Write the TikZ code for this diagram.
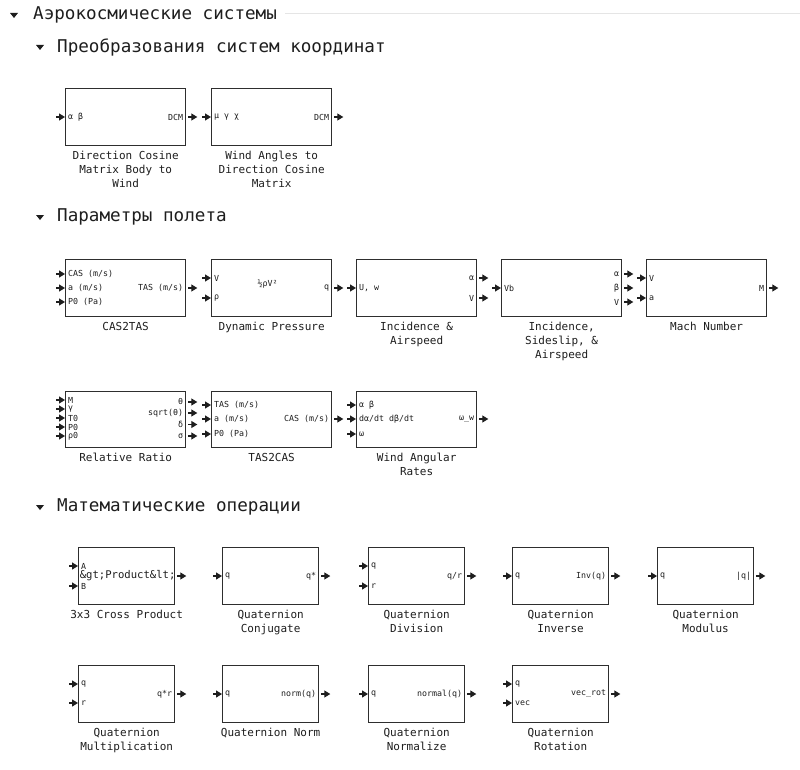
\documentclass[tikz,border=0pt]{standalone}
\usepackage{fontspec}
\setmainfont{DejaVu Sans Mono}
\usetikzlibrary{calc,arrows.meta}
\definecolor{ink}{HTML}{1E1E1E}
\definecolor{frame}{HTML}{2E2E2E}
\tikzset{
  blk/.style={draw=frame, line width=1.3pt, anchor=north west, inner sep=0pt, minimum height=57pt},
  wide/.style={blk, minimum width=120pt},
  narrow/.style={blk, minimum width=96pt},
  parr/.style={draw=ink, line width=1.2pt, -{Triangle[length=6pt,width=7pt]}},
  plab/.style={font=\fontsize{8.3}{9}\selectfont, text=ink, inner sep=0pt},
  captxt/.style={font=\fontsize{11}{14}\selectfont, text=ink, align=center, anchor=north, inner sep=0pt},
  hdr/.style={font=\fontsize{17.6}{20}\selectfont, text=ink, anchor=west, inner sep=0pt},
  tri/.style={fill=ink, draw=none}
}
\newcommand{\inport}[3]{%
  \draw[parr] ($(#1.north west)+(-9,#2)$) -- ($(#1.north west)+(0,#2)$);
  \node[plab,anchor=west] at ($(#1.north west)+(3,#2)$) {#3};}
\newcommand{\outport}[3]{%
  \draw[parr] ($(#1.north east)+(2,#2)$) -- ($(#1.north east)+(11,#2)$);
  \node[plab,anchor=east] at ($(#1.north east)+(-3,#2)$) {#3};}
\newcommand{\capt}[2]{\node[captxt] at ($(#1.south)+(0,5)$) {#2};}
\newcommand{\hdrtri}[2]{\fill[tri] (#1-4,#2-2) -- (#1+4,#2-2) -- (#1,#2+3) -- cycle;}
\begin{document}
\begin{tikzpicture}[x=1pt,y=-1pt]
\useasboundingbox[fill=white] (0,0) rectangle (800,770);
% headers
\hdrtri{14}{15}
\node[hdr] (h1) at (33,15) {Аэрокосмические системы};
\draw[gray!20, line width=1pt] (285,14) -- (800,14);
\hdrtri{40}{47}
\node[hdr] (h2) at (57,47) {Преобразования систем координат};
\hdrtri{40}{217}
\node[hdr] (h3) at (57,217) {Параметры полета};
\hdrtri{40}{507}
\node[hdr] (h4) at (57,507) {Математические операции};

% row 1
\node[wide] (dcm) at (65,88) {};
\inport{dcm}{29}{α β}\outport{dcm}{29}{DCM}
\capt{dcm}{Direction Cosine\\Matrix Body to\\Wind}
\node[wide] (wad) at (211,88) {};
\inport{wad}{29}{μ γ χ}\outport{wad}{29}{DCM}
\capt{wad}{Wind Angles to\\Direction Cosine\\Matrix}

% row 2
\node[wide] (c2t) at (65,259) {};
\inport{c2t}{15}{CAS (m/s)}\inport{c2t}{29}{a (m/s)}\inport{c2t}{43}{P0 (Pa)}
\outport{c2t}{29}{TAS (m/s)}
\capt{c2t}{CAS2TAS}
\node[wide] (dp) at (211,259) {};
\inport{dp}{19}{V}\inport{dp}{39}{ρ}\outport{dp}{29}{q}
\node[plab] at ($(dp.north)+(-4,25)$) {½ρV²};
\capt{dp}{Dynamic Pressure}
\node[wide] (ia) at (356,259) {};
\inport{ia}{29}{U, w}\outport{ia}{19}{α}\outport{ia}{39}{V}
\capt{ia}{Incidence \&\\Airspeed}
\node[wide] (isa) at (501,259) {};
\inport{isa}{29}{Vb}\outport{isa}{15}{α}\outport{isa}{29}{β}\outport{isa}{43}{V}
\capt{isa}{Incidence,\\Sideslip, \&\\Airspeed}
\node[wide] (mach) at (646,259) {};
\inport{mach}{19}{V}\inport{mach}{39}{a}\outport{mach}{29}{M}
\capt{mach}{Mach Number}

% row 3
\node[wide, minimum height=56pt] (rr) at (65,391) {};
\inport{rr}{9}{M}\inport{rr}{18}{γ}\inport{rr}{27}{T0}\inport{rr}{36}{P0}\inport{rr}{45}{ρ0}
\outport{rr}{11}{θ}\outport{rr}{22}{sqrt(θ)}\outport{rr}{33.5}{δ}\outport{rr}{45}{σ}
\capt{rr}{Relative Ratio}
\node[wide, minimum height=56pt] (t2c) at (211,391) {};
\inport{t2c}{14}{TAS (m/s)}\inport{t2c}{28}{a (m/s)}\inport{t2c}{43}{P0 (Pa)}
\outport{t2c}{28}{CAS (m/s)}
\capt{t2c}{TAS2CAS}
\node[wide, minimum height=56pt] (war) at (356,391) {};
\inport{war}{14}{α β}\inport{war}{28}{dα/dt dβ/dt}\inport{war}{43}{ω}
\outport{war}{28}{ω\_w}
\capt{war}{Wind Angular\\Rates}

% row 4
\node[narrow] (cp) at (78,547) {};
\inport{cp}{19}{A}\inport{cp}{39}{B}
\node[font=\fontsize{10.6}{12}\selectfont, text=ink, inner sep=0pt] at ($(cp.north)+(1,29)$) {\&gt;Product\&lt;};
\draw[parr] ($(cp.north east)+(2,29)$) -- ($(cp.north east)+(11,29)$);
\capt{cp}{3x3 Cross Product}
\node[narrow] (qc) at (222,547) {};
\inport{qc}{29}{q}\outport{qc}{29}{q*}
\capt{qc}{Quaternion\\Conjugate}
\node[narrow] (qd) at (368,547) {};
\inport{qd}{19}{q}\inport{qd}{39}{r}\outport{qd}{29}{q/r}
\capt{qd}{Quaternion\\Division}
\node[narrow] (qi) at (512,547) {};
\inport{qi}{29}{q}\outport{qi}{29}{Inv(q)}
\capt{qi}{Quaternion\\Inverse}
\node[narrow] (qm) at (657,547) {};
\inport{qm}{29}{q}\outport{qm}{29}{|q|}
\capt{qm}{Quaternion\\Modulus}

% row 5
\node[narrow] (qmul) at (78,665) {};
\inport{qmul}{19}{q}\inport{qmul}{38}{r}\outport{qmul}{29}{q*r}
\capt{qmul}{Quaternion\\Multiplication}
\node[narrow] (qn) at (222,665) {};
\inport{qn}{29}{q}\outport{qn}{29}{norm(q)}
\capt{qn}{Quaternion Norm}
\node[narrow] (qnz) at (368,665) {};
\inport{qnz}{29}{q}\outport{qnz}{29}{normal(q)}
\capt{qnz}{Quaternion\\Normalize}
\node[narrow] (qr) at (512,665) {};
\inport{qr}{19}{q}\inport{qr}{38}{vec}\outport{qr}{29}{vec\_rot}
\capt{qr}{Quaternion\\Rotation}
\end{tikzpicture}
\end{document}
